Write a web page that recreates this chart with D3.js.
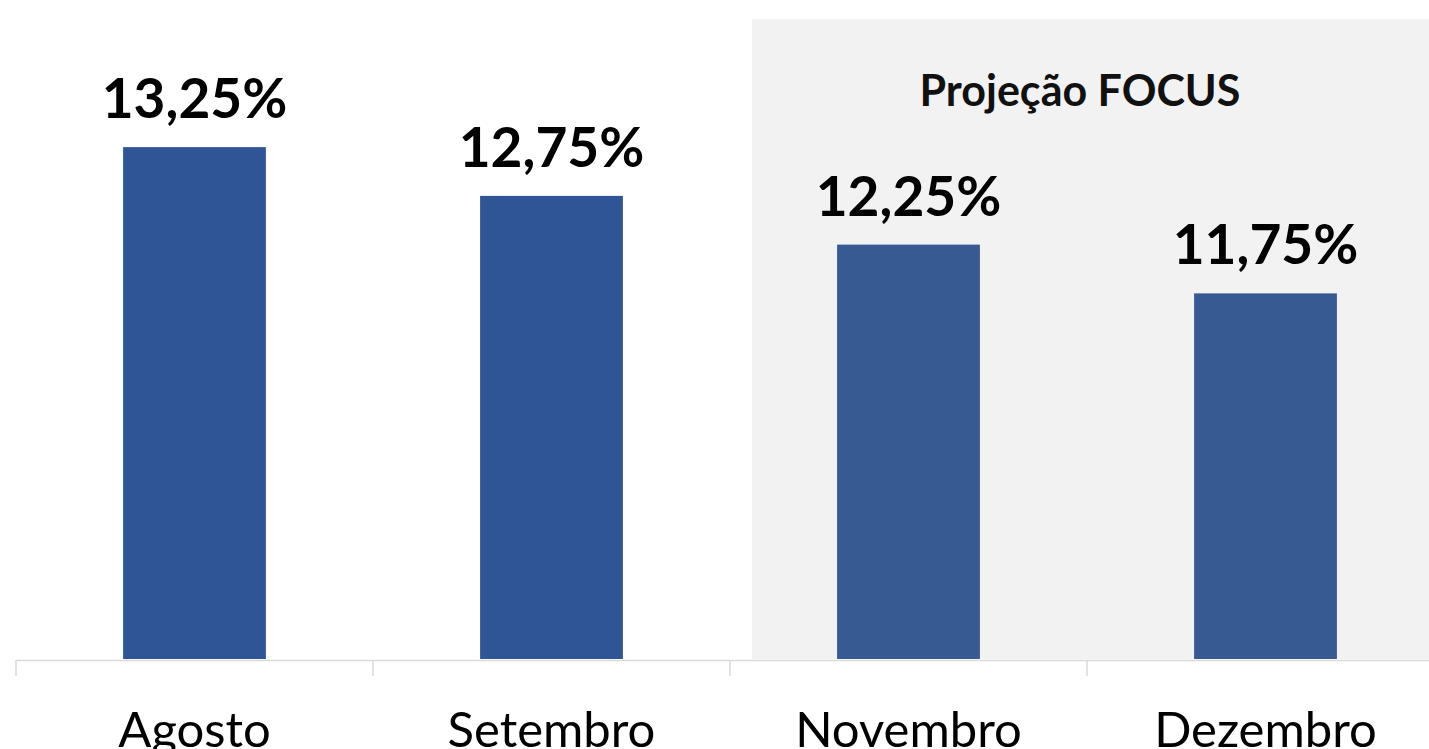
<!DOCTYPE html>
<html>
<head>
<meta charset="utf-8">
<script src="https://cdn.jsdelivr.net/npm/d3@7"></script>
<style>
  body { margin: 0; background: #fff; }
  svg { display: block; }
</style>
</head>
<body>
<div id="chart"></div>
<script>
// Dados: taxa Selic por mês (as duas últimas são projeção FOCUS)
let meses = ['Agosto', 'Setembro', 'Novembro', 'Dezembro'];
let taxas = [13.25, 12.75, 12.25, 11.75];
let projecao = [false, false, true, true];

let width = 1429;
let height = 749;
let base_y = 659;

let svg = d3.select('#chart')
    .append('svg')
    .attr('width', width)
    .attr('height', height);

// Escalas
let x_scale = d3.scaleBand()
    .domain(meses)
    .range([16, 1444])
    .paddingInner(0.6)
    .paddingOuter(0.3);

let y_scale = d3.scaleLinear()
    .domain([8, 15])
    .range([base_y, base_y - 7 * 97.5]);

// Fundo cinza da projeção
let step = x_scale.step();
let proj_start = x_scale(meses[2]) - x_scale.bandwidth() * 0.595;
svg.append('rect')
    .attr('x', proj_start)
    .attr('y', 19)
    .attr('width', width - proj_start)
    .attr('height', base_y - 19)
    .attr('fill', '#f2f2f2');

svg.append('text')
    .attr('x', 1080)
    .attr('y', 106)
    .attr('text-anchor', 'middle')
    .style('font-family', 'Lato, sans-serif')
    .style('font-weight', 'bold')
    .style('font-size', '43px')
    .attr('fill', '#111')
    .text('Projeção FOCUS');

// Barras
svg.selectAll('rect.bar')
    .data(meses)
    .enter()
    .append('rect')
    .attr('class', 'bar')
    .attr('x', d => x_scale(d))
    .attr('y', (d, i) => y_scale(taxas[i]))
    .attr('width', x_scale.bandwidth())
    .attr('height', (d, i) => base_y - y_scale(taxas[i]))
    .attr('fill', (d, i) => projecao[i] ? '#375a93' : '#2f5597');

// Rótulos de valor
let fmt = v => d3.format('.2f')(v).replace('.', ',') + '%';
svg.selectAll('text.valor')
    .data(meses)
    .enter()
    .append('text')
    .attr('class', 'valor')
    .attr('x', d => x_scale(d) + x_scale.bandwidth() / 2)
    .attr('y', (d, i) => y_scale(taxas[i]) - 29)
    .attr('text-anchor', 'middle')
    .style('font-family', 'Lato, sans-serif')
    .style('font-weight', 'bold')
    .style('font-size', '55px')
    .attr('fill', '#000')
    .text((d, i) => fmt(taxas[i]));

// Eixo x
let x_axis = d3.axisBottom(x_scale).tickSize(0).tickPadding(53);
let gx = svg.append('g')
    .attr('transform', 'translate(0,' + (base_y + 1) + ')')
    .call(x_axis);
gx.select('.domain').attr('stroke', '#d9d9d9').attr('stroke-width', 1.5);
gx.selectAll('text')
    .style('font-family', 'Lato, sans-serif')
    .style('font-size', '49px')
    .attr('fill', '#000')
    .attr('dy', '0.7em');

// marcas entre categorias
let divisoes = d3.range(meses.length + 1).map(i => 16 + i * step);
gx.selectAll('line.div')
    .data(divisoes)
    .enter()
    .append('line')
    .attr('class', 'div')
    .attr('x1', d => d).attr('x2', d => d)
    .attr('y1', 0).attr('y2', 16)
    .attr('stroke', '#d9d9d9')
    .attr('stroke-width', 1.5);
</script>
</body>
</html>
